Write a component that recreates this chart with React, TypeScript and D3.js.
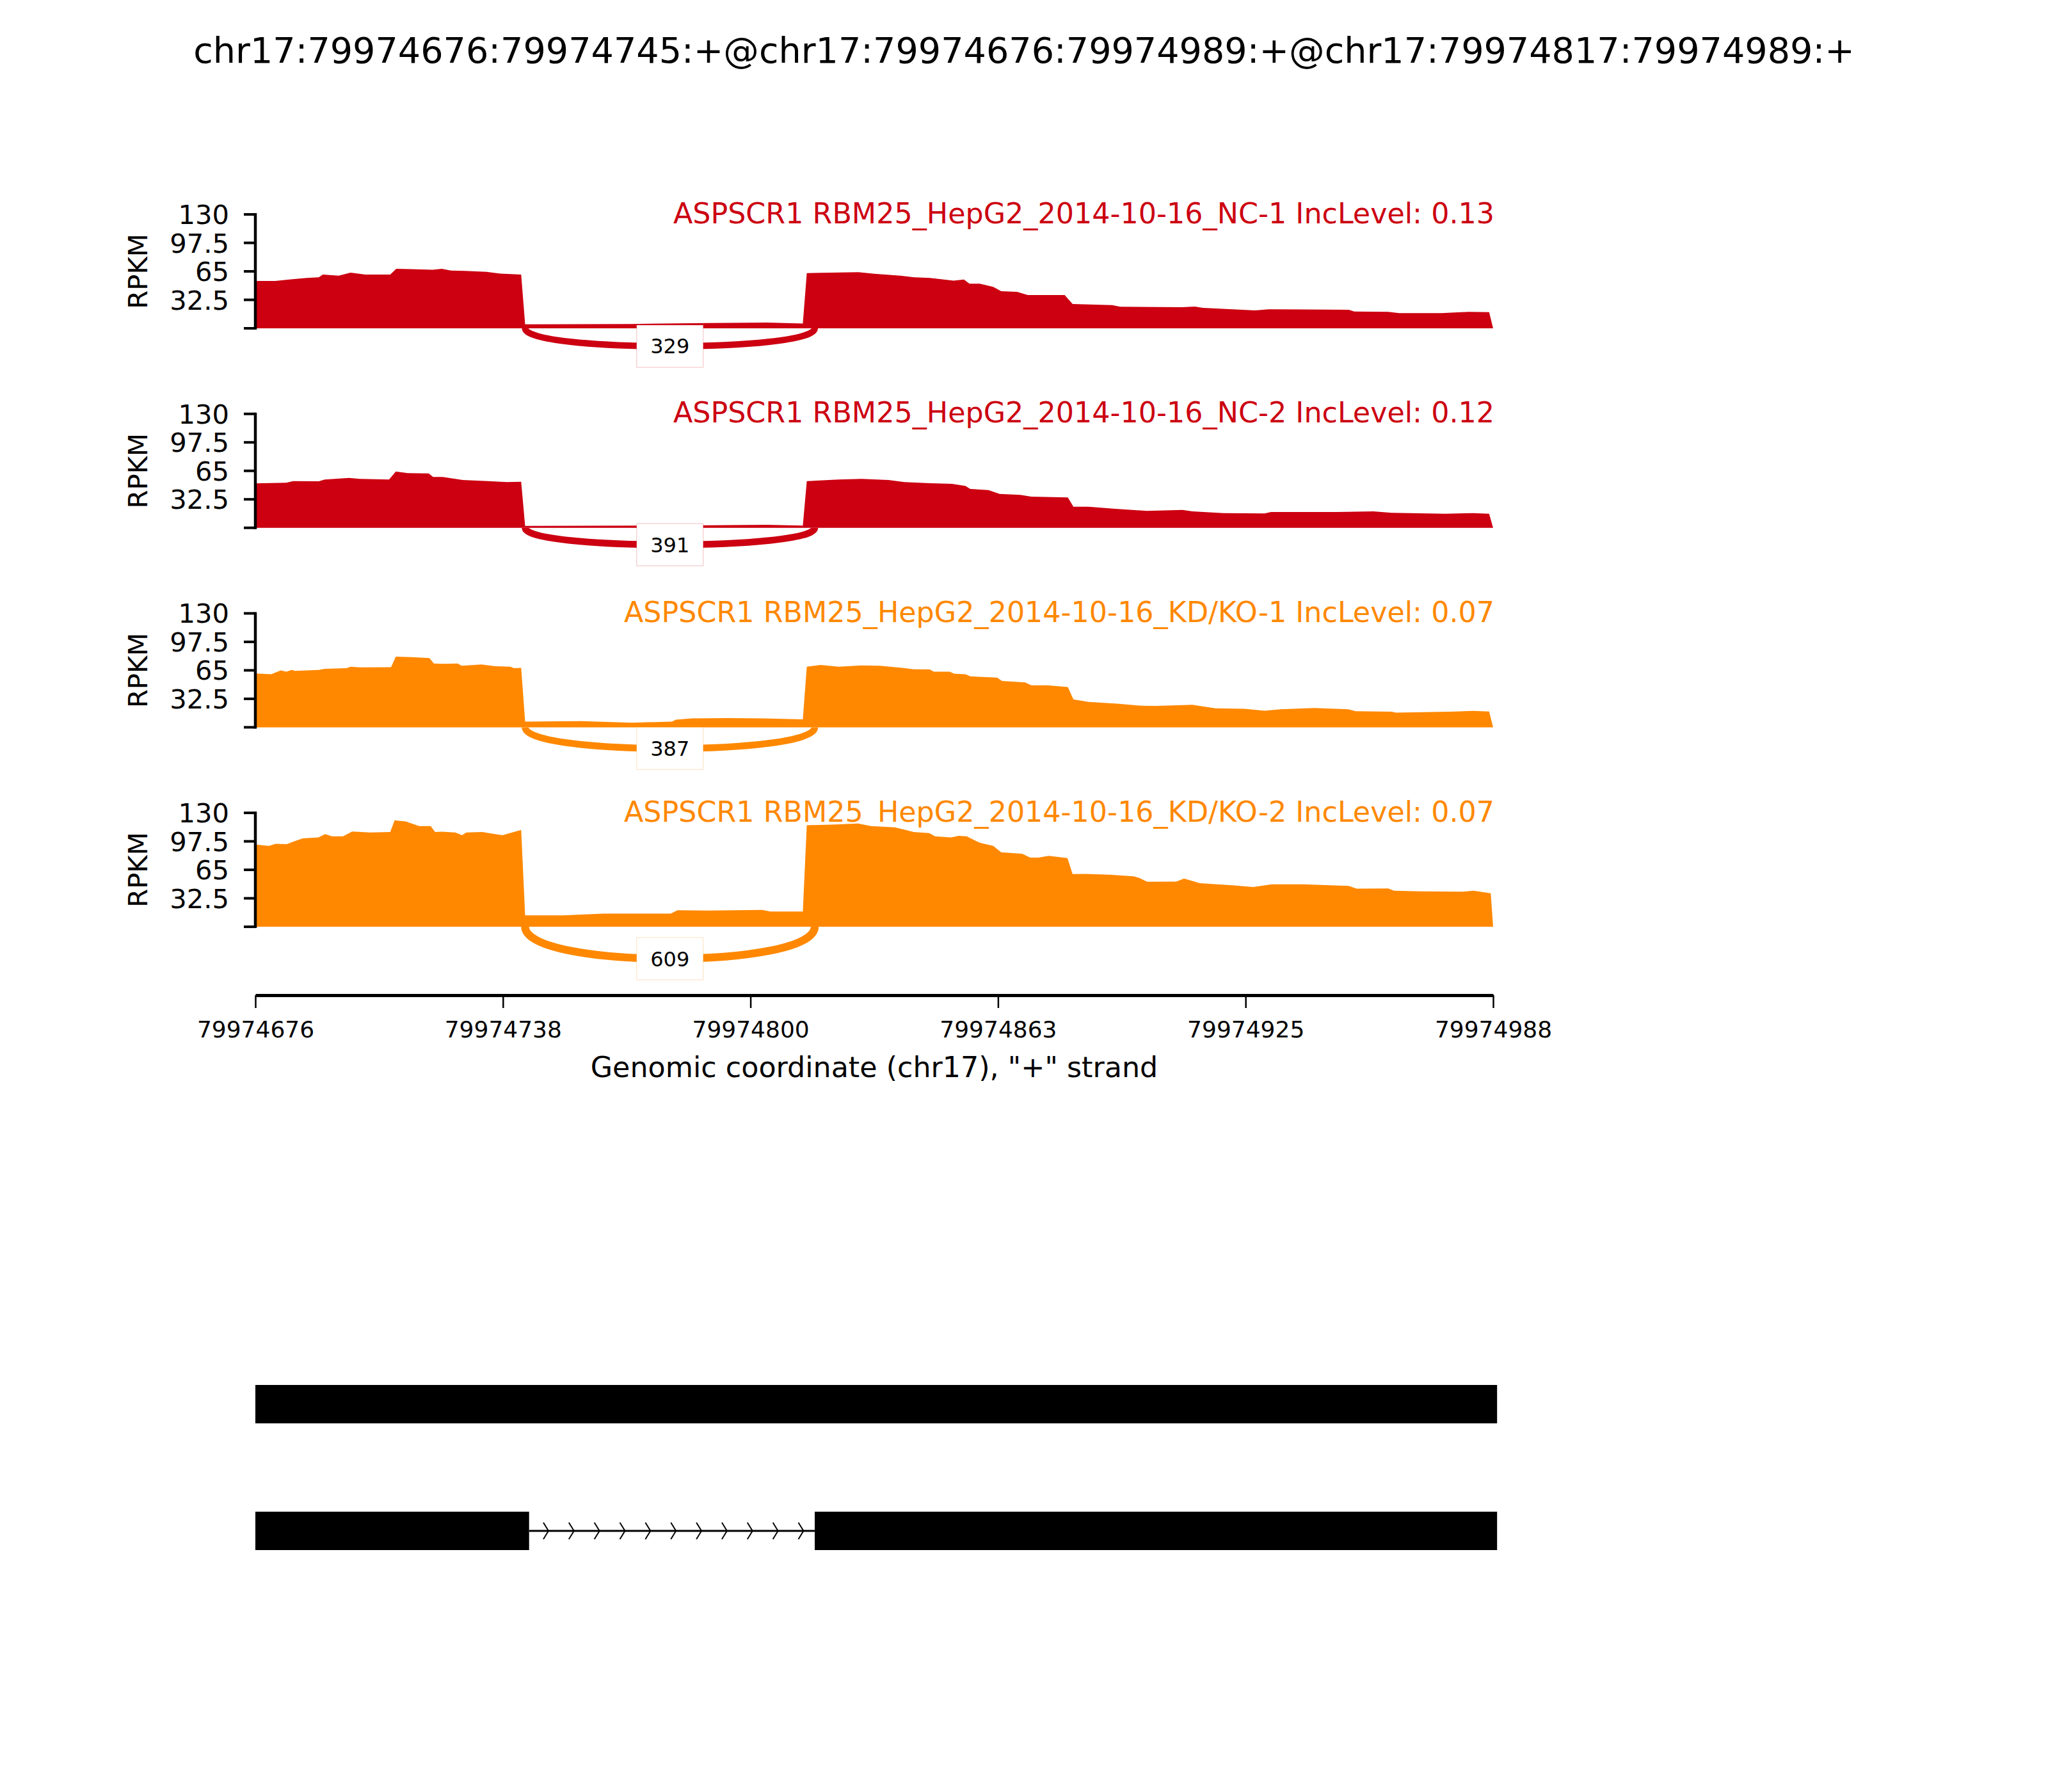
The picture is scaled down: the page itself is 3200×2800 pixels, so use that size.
import React, { useRef, useEffect } from 'react';
import * as d3 from 'd3';

const regionStart = 79974676;
const regionEnd = 79974988;
const chrom = 'chr17';
const eventTitle = 'chr17:79974676:79974745:+@chr17:79974676:79974989:+@chr17:79974817:79974989:+';

const sampleNames = [
  'ASPSCR1 RBM25_HepG2_2014-10-16_NC-1 IncLevel: 0.13',
  'ASPSCR1 RBM25_HepG2_2014-10-16_NC-2 IncLevel: 0.12',
  'ASPSCR1 RBM25_HepG2_2014-10-16_KD/KO-1 IncLevel: 0.07',
  'ASPSCR1 RBM25_HepG2_2014-10-16_KD/KO-2 IncLevel: 0.07',
];
const sampleColors = ['#CC0011', '#CC0011', '#FF8800', '#FF8800'];

// junction (same in every sample) and its read counts
const junction = [79974744, 79974817];
const junctionCounts = [329, 391, 387, 609];

// coverage outline: [offset from regionStart, RPKM]
const cov1 = [[0,54],[5,54],[8.5,55.7],[13,57.5],[16,58.2],[17,61.4],[21,60],[24,63.5],[27.7,61.3],[34,61.3],[35.5,68],[39,67.5],[44.7,66.8],[47,67.9],[49.3,66],[52.7,65.5],[58.3,64.5],[61.7,62.4],[67,61.3],[68,4.5],[95,5],[114,6],[129,6.5],[138,5.5],[139,63],[152,64],[156,62.3],[162.6,60],[166,58.2],[170,57.5],[176,54.5],[178.6,55.7],[180,50.9],[182.6,50.9],[186,47.2],[188,42.4],[192,41.6],[194.7,38],[204,38],[206,27.8],[216,26.5],[218,24.6],[233.5,24.1],[236.8,24.8],[238.8,23.4],[252,20.4],[255.5,21.7],[275.6,21.2],[277,19.2],[285.6,18.8],[288.3,17.3],[299,17.3],[305.7,18.8],[311,18.5],[312,0]];
const cov2 = [[0,50.7],[7.8,51.4],[9.5,53.3],[16,53.1],[17.5,55.1],[23.6,57],[26.3,55.8],[33.7,55.1],[35.4,64.3],[38.4,62.4],[43.7,62],[44.8,58],[47.2,58],[52.3,54.6],[58.7,53.3],[63.4,52.2],[67,52.5],[68,2.2],[95,2.5],[114,2.8],[129,3.4],[138,2.5],[139,53.3],[147,55.1],[152.8,55.8],[159.6,54.6],[163.6,52.2],[170,50.9],[175.6,50.2],[179,47.8],[180.2,44.3],[184.8,43.1],[187.6,38.7],[192.8,37.5],[195.6,35.6],[204.8,34.6],[206.2,24.1],[210,24],[216.7,21.7],[224.7,19.3],[233.7,20.5],[236.2,18.8],[244,16.8],[254.4,16.4],[256,18],[272.7,18],[281.8,18.8],[286.4,17.2],[300,16.1],[307,16.8],[311,16.1],[312,0]];
const cov3 = [[0,61.4],[4,60.6],[6.4,65],[7.8,63.5],[9.2,65.5],[10,64.3],[16,65.5],[17.5,66.7],[23,67.4],[24,69.1],[26.3,68.4],[34.2,68.6],[35.4,80.6],[39.3,80.1],[43.9,78.9],[45,72.8],[47.2,72.4],[51,72.8],[52,70.3],[57,71.6],[60.6,69.6],[64.3,69.1],[65.2,67.4],[67,67.9],[68,6.5],[82,7],[95,5.3],[105,6.5],[106,8.7],[110,10.2],[119,10.5],[128,10.2],[138,9],[139,69.1],[142.5,71.1],[147,69.1],[152.8,70.6],[157.4,70.3],[163,67.9],[166,66.2],[170,66],[171,63.5],[175,63.5],[176.2,61.1],[179,60.6],[180.2,58.1],[187,56.7],[188.2,52.8],[194,51.3],[195.6,47.9],[199.6,48],[204.8,46],[206.2,31.8],[210,28.9],[217.3,27],[223.6,24.5],[227,24.4],[236.2,25.6],[242,21.6],[249.3,21.1],[254.4,19],[258.4,20.5],[267,22.1],[275.5,20.5],[277.3,18.3],[286.4,17.8],[287.5,16.8],[301.2,17.8],[307,18.7],[311,18],[312,0]];
const cov4 = [[0,94],[3.4,92.3],[5.1,94.7],[7.9,94.2],[9.6,97.2],[11.9,100.8],[15.9,102],[17.6,105.7],[19.3,103.2],[22.1,103.2],[24.4,108.8],[28.9,107.6],[34,108.1],[35.1,121.5],[37.9,120.3],[41.3,114.9],[44.2,114.9],[45.3,108.1],[47,108.6],[50.4,107.6],[52.1,104.5],[53.2,107.6],[57.2,108.1],[62.3,104.5],[67,110.5],[68,13.1],[77.6,13.1],[87.8,15.1],[104.7,15.1],[106.4,18.8],[114,18.5],[127.8,19.2],[129.8,17.5],[138,17.5],[139,115.9],[145.2,116.6],[151.9,117.8],[155.2,114.9],[161.2,113.4],[163.9,110.5],[165.9,108.1],[169.9,106.9],[171.3,103.2],[175.3,102],[177.3,103.7],[179.3,103.2],[182.6,95.9],[186,92.3],[188,85],[193.3,83.3],[195.3,78.9],[197.4,78.9],[200,80.9],[204.7,78.4],[206,60.1],[209.3,60.3],[215.4,59.4],[221.4,57.5],[222.8,55.7],[224.8,51.4],[232.1,51.6],[234.1,55],[238.1,49.7],[246.8,47.2],[251.5,45.3],[256.2,48.4],[264.2,48.4],[275.6,46.7],[277.6,43.6],[285.6,43.8],[287,41.1],[293.7,40.4],[304.4,40],[307.1,41.1],[311.4,38.2],[312,0]];
const coverages = [cov1, cov2, cov3, cov4];

const yTicks = [0, 32.5, 65, 97.5, 130];
const yTickLabels = ['', '32.5', '65', '97.5', '130'];
const xTicks = [79974676, 79974738.4, 79974800.8, 79974863.2, 79974925.6, 79974988];

// gene model: isoform exons
const isoforms = [
  [[79974676, 79974989]],
  [[79974676, 79974745], [79974817, 79974989]],
];

const FONT = 'DejaVu Sans';

function Sashimi() {
  const svgRef = useRef(null);

  useEffect(() => {
    const svg = d3.select(svgRef.current);
    svg.selectAll('*').remove();

    const width = 3200;
    const left = 399, right = 2333;
    const panelH = 178, firstBase = 513, panelStep = 311.7;

    const x = d3.scaleLinear().domain([regionStart, regionEnd]).range([left, right]);

    svg.append('rect').attr('width', width).attr('height', 2800).attr('fill', 'white');

    svg.append('text')
      .attr('x', width / 2).attr('y', 98)
      .attr('text-anchor', 'middle')
      .attr('font-family', FONT).attr('font-size', 55.6)
      .text(eventTitle);

    const lw = d3.scaleLinear().domain([300, 600]).range([9.8, 12.3]);

    coverages.forEach((cov, i) => {
      const base = firstBase + i * panelStep;
      const y = d3.scaleLinear().domain([0, 130]).range([base, base - panelH]);
      const color = sampleColors[i];
      const g = svg.append('g');

      const area = d3.area()
        .x(d => x(regionStart + d[0]))
        .y0(y(0))
        .y1(d => y(d[1]));
      g.append('path').datum(cov).attr('fill', color).attr('d', area);

      // junction arc below the axis
      const maxCov = d3.max(cov, d => d[1]);
      const h = -0.4 * maxCov;
      const L = x(junction[0]), R = x(junction[1]);
      const p = d3.path();
      p.moveTo(L, y(0));
      p.bezierCurveTo(L, y(h), R, y(h), R, y(0));
      g.append('path').attr('d', p.toString())
        .attr('fill', 'none').attr('stroke', color)
        .attr('stroke-width', lw(junctionCounts[i]));

      const mx = (L + R) / 2, my = y(0.75 * h);
      g.append('rect')
        .attr('x', mx - 52).attr('y', my - 33)
        .attr('width', 104).attr('height', 66)
        .attr('fill', 'white').attr('stroke', color)
        .attr('stroke-opacity', 0.25).attr('stroke-width', 1);
      g.append('text')
        .attr('x', mx).attr('y', my)
        .attr('dy', '0.36em')
        .attr('text-anchor', 'middle')
        .attr('font-family', FONT).attr('font-size', 32)
        .text(junctionCounts[i]);

      // y axis
      const ax = g.append('g');
      ax.append('line')
        .attr('x1', left).attr('x2', left)
        .attr('y1', y(0) + 2).attr('y2', y(130) - 2)
        .attr('stroke', 'black').attr('stroke-width', 4.5);
      yTicks.forEach((t, k) => {
        ax.append('line')
          .attr('x1', left - 18).attr('x2', left)
          .attr('y1', y(t)).attr('y2', y(t))
          .attr('stroke', 'black').attr('stroke-width', 4);
        ax.append('text')
          .attr('x', left - 41).attr('y', y(t))
          .attr('dy', '0.36em')
          .attr('text-anchor', 'end')
          .attr('font-family', FONT).attr('font-size', 41.7)
          .text(yTickLabels[k]);
      });
      ax.append('text')
        .attr('transform', `translate(230,${y(65)}) rotate(-90)`)
        .attr('text-anchor', 'middle')
        .attr('font-family', FONT).attr('font-size', 41.7)
        .text('RPKM');

      g.append('text')
        .attr('x', right + 2).attr('y', y(130) + 13.5)
        .attr('text-anchor', 'end')
        .attr('fill', color)
        .attr('font-family', FONT).attr('font-size', 44.4)
        .text(sampleNames[i]);
    });

    // shared genomic x axis
    const xAxisY = 1555;
    const xa = svg.append('g')
      .attr('transform', `translate(0,${xAxisY})`)
      .call(d3.axisBottom(x).tickValues(xTicks).tickSize(20).tickSizeOuter(0)
        .tickFormat(d => String(Math.floor(d))));
    xa.select('.domain').attr('stroke-width', 5);
    xa.selectAll('.tick line').attr('stroke-width', 2.5);
    xa.selectAll('.tick text')
      .attr('font-family', FONT).attr('font-size', 36)
      .attr('y', 40).attr('dy', '0.71em');
    svg.append('text')
      .attr('x', (left + right) / 2).attr('y', 1683)
      .attr('text-anchor', 'middle')
      .attr('font-family', FONT).attr('font-size', 44.4)
      .text(`Genomic coordinate (${chrom}), "+" strand`);

    // gene model
    const rowY = d3.scalePoint().domain(d3.range(isoforms.length)).range([2194, 2392]);
    const exonH = 60;
    isoforms.forEach((exons, r) => {
      const cy = rowY(r);
      const gg = svg.append('g');
      for (let k = 0; k < exons.length - 1; k++) {
        const a = x(exons[k][1]), b = x(exons[k + 1][0]);
        gg.append('line')
          .attr('x1', a).attr('x2', b).attr('y1', cy).attr('y2', cy)
          .attr('stroke', 'black').attr('stroke-width', 3);
        const n = 11, step = (b - a) / 11.2;
        d3.range(n).forEach(j => {
          const cx = a + (j + 0.76) * step;
          gg.append('path')
            .attr('d', `M${cx - 8},${cy - 13}L${cx},${cy}L${cx - 8},${cy + 13}`)
            .attr('fill', 'none').attr('stroke', 'black').attr('stroke-width', 2);
        });
      }
      exons.forEach(e => {
        gg.append('rect')
          .attr('x', x(e[0])).attr('y', cy - exonH / 2)
          .attr('width', x(e[1]) - x(e[0])).attr('height', exonH)
          .attr('fill', 'black');
      });
    });
  }, []);

  return (
    <svg ref={svgRef} width={3200} height={2800}
      style={{ position: 'absolute', left: 0, top: 0 }} />
  );
}

export default function App() {
  return <Sashimi />;
}
